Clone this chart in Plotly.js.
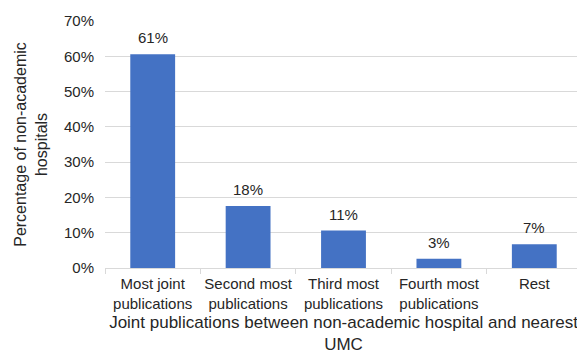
<!DOCTYPE html>
<html>
<head>
<meta charset="utf-8">
<script src="https://cdn.plot.ly/plotly-3.0.1.min.js"></script>
<style>
html,body{margin:0;padding:0;overflow:hidden;background:#fff;}
#chart{width:600px;height:361px;}
</style>
</head>
<body>
<div id="chart"></div>
<script>
var categories = ["Most joint<br>publications", "Second most<br>publications", "Third most<br>publications", "Fourth most<br>publications", "Rest"];
var values = [0.606, 0.176, 0.106, 0.026, 0.067];
var yTickVals = [0, 0.1, 0.2, 0.3, 0.4, 0.5, 0.6, 0.7];

var FONT = "Liberation Sans, Arial, sans-serif";
var TXT = "#262626";

var trace = {
  type: "bar",
  x: categories,
  y: values,
  marker: {color: "#4472C4"},
  hoverinfo: "none"
};

var labels = categories.map(function (c, i) {
  return {
    x: c,
    y: values[i],
    xref: "x",
    yref: "y",
    text: Math.round(values[i] * 100) + "%",
    showarrow: false,
    yanchor: "middle",
    yshift: 16.5,
    font: {family: FONT, size: 15, color: TXT}
  };
});

var layout = {
  width: 600,
  height: 361,
  margin: {l: 105, r: 18, t: 21, b: 93},
  paper_bgcolor: "#ffffff",
  plot_bgcolor: "#ffffff",
  bargap: 0.53,
  showlegend: false,
  font: {family: FONT, size: 15, color: TXT},
  annotations: labels,
  xaxis: {
    showline: true,
    linecolor: "#d9d9d9",
    linewidth: 1,
    ticks: "outside",
    tickson: "boundaries",
    ticklen: 5,
    tickcolor: "#d9d9d9",
    tickangle: 0,
    ticklabelstandoff: 2,
    tickfont: {family: FONT, size: 15, color: TXT},
    title: {text: "Joint publications between non-academic hospital and nearest<br>UMC", font: {family: FONT, size: 17, color: TXT}, standoff: 5}
  },
  yaxis: {
    range: [0, 0.7],
    tickvals: yTickVals,
    tickformat: ".0%",
    showgrid: true,
    gridcolor: "#d9d9d9",
    gridwidth: 1,
    zeroline: false,
    showline: false,
    ticks: "",
    ticklabelstandoff: 10,
    tickfont: {family: FONT, size: 15, color: TXT},
    title: {text: "Percentage of non-academic<br>hospitals", font: {family: FONT, size: 16, color: TXT}, standoff: 12}
  }
};

Plotly.newPlot("chart", [trace], layout, {displayModeBar: false, staticPlot: true});
</script>
</body>
</html>
